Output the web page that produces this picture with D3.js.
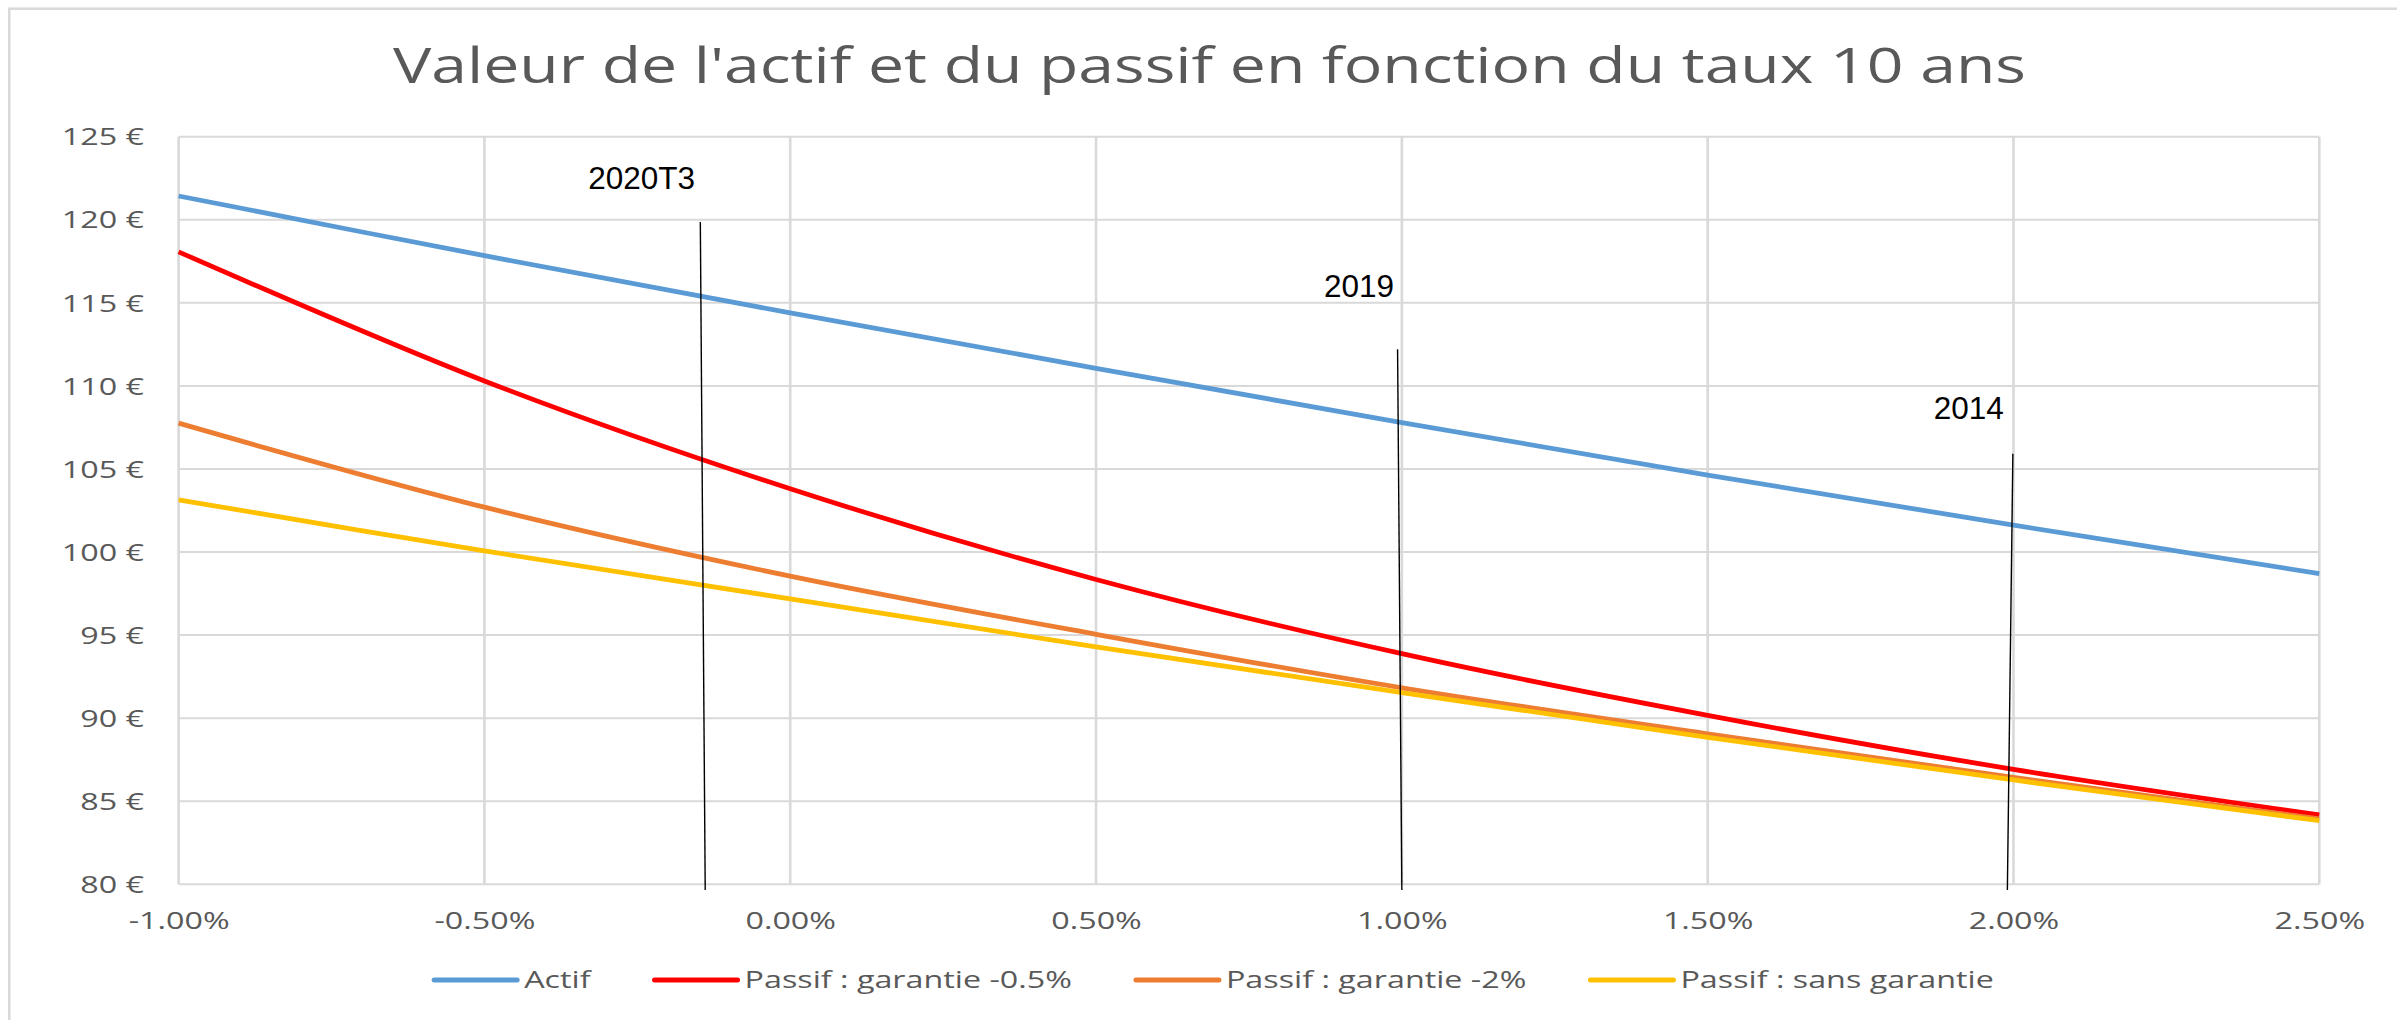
<!DOCTYPE html>
<html>
<head>
<meta charset="utf-8">
<script src="https://cdn.jsdelivr.net/npm/d3@7"></script>
<style>
  body { margin: 0; background: #fff; }
  svg { display: block; }
</style>
</head>
<body>
<script>

// taux 10 ans (en %)
var rates = [-1.0, -0.5, 0.0, 0.5, 1.0, 1.5, 2.0, 2.5];

// valeurs (en euros)
var actif       = [121.43, 117.84, 114.39, 111.06, 107.79, 104.63, 101.62, 98.70];
var passifGar05 = [118.07, 110.30, 103.81, 98.35, 93.88, 90.17, 86.92, 84.18];
var passifGar2  = [107.76, 102.70, 98.55, 95.05, 91.83, 89.06, 86.43, 83.94];
var passifSans  = [103.14, 100.07, 97.18, 94.29, 91.54, 88.85, 86.28, 83.83];

var seriesNames = ["Actif", "Passif : garantie -0.5%", "Passif : garantie -2%", "Passif : sans garantie"];
var seriesColors = ["#5b9bd5", "#ff0000", "#ed7d31", "#ffc000"];

var xTicks = [-1.0, -0.5, 0.0, 0.5, 1.0, 1.5, 2.0, 2.5];
var yTicks = [80, 85, 90, 95, 100, 105, 110, 115, 120, 125];

// annotations (années)
var annoLabels = ["2020T3", "2019", "2014"];
var annoTextRate = [-0.243, 0.930, 1.927];
var annoTextValue = [121.85, 115.35, 108.0];
var annoTopRate = [-0.147, 0.993, 1.999];
var annoTopValue = [119.86, 112.21, 105.91];
var annoBottomRate = [-0.139, 1.000, 1.990];
var annoBottomValue = [79.66, 79.66, 79.66];

var W = 2397, H = 1020;
var plot = {left: 178.6, right: 2319.3, top: 136.7, bottom: 884.3};
var stretch = 1.38; // texte du graphique étiré horizontalement
var grey = "#595959";
var font = "'Open Sans', 'DejaVu Sans', sans-serif";

var svg = d3.select("body")
    .append("svg")
    .attr("width", W)
    .attr("height", H);

// cadre du graphique
svg.append("rect")
    .attr("x", 9.3)
    .attr("y", 8.7)
    .attr("width", W + 20)
    .attr("height", H + 20)
    .attr("fill", "none")
    .attr("stroke", "#d9d9d9")
    .attr("stroke-width", 2.5);

var x = d3.scaleLinear()
    .domain([-1.0, 2.5])
    .range([plot.left, plot.right]);

var y = d3.scaleLinear()
    .domain([80, 125])
    .range([plot.bottom, plot.top]);

// titre
svg.append("text")
    .attr("x", 1209.5)
    .attr("y", 83)
    .attr("text-anchor", "middle")
    .attr("font-family", font)
    .attr("font-size", 49)
    .attr("fill", grey)
    .attr("textLength", 1633)
    .attr("lengthAdjust", "spacingAndGlyphs")
    .text("Valeur de l'actif et du passif en fonction du taux 10 ans");

// grille
var grid = svg.append("g");

grid.selectAll("line.h")
    .data(yTicks)
    .enter()
    .append("line")
    .attr("class", "h")
    .attr("x1", plot.left)
    .attr("x2", plot.right)
    .attr("y1", (d) => y(d))
    .attr("y2", (d) => y(d))
    .attr("stroke", "#d9d9d9")
    .attr("stroke-width", 2);

grid.selectAll("line.v")
    .data(xTicks)
    .enter()
    .append("line")
    .attr("class", "v")
    .attr("x1", (d) => x(d))
    .attr("x2", (d) => x(d))
    .attr("y1", plot.top)
    .attr("y2", plot.bottom)
    .attr("stroke", "#d9d9d9")
    .attr("stroke-width", 2.6);

// axes (seulement les libellés)
var yAxis = d3.axisLeft(y)
    .tickValues(yTicks)
    .tickSize(0)
    .tickFormat((d) => d + " €");

var yG = svg.append("g")
    .attr("transform", "translate(" + plot.left + ",0)")
    .call(yAxis);

var xAxis = d3.axisBottom(x)
    .tickValues(xTicks)
    .tickSize(0)
    .tickFormat((d) => d.toFixed(2) + "%");

var xG = svg.append("g")
    .attr("transform", "translate(0," + plot.bottom + ")")
    .call(xAxis);

[yG, xG].forEach((g) => {
    g.select(".domain").remove();
    g.selectAll("text")
        .attr("font-family", font)
        .attr("font-size", 23.4)
        .attr("fill", grey);
});

yG.selectAll("text")
    .attr("x", -34.6 / stretch)
    .attr("dy", null)
    .attr("y", 8.2)
    .attr("transform", "scale(" + stretch + ",1)");

xG.selectAll("text")
    .attr("dy", null)
    .attr("y", 45.2)
    .attr("transform", "scale(" + stretch + ",1)");

// courbes
var allSeries = [actif, passifGar05, passifGar2, passifSans];

var line = d3.line()
    .x((d, i) => x(rates[i]))
    .y((d) => y(d))
    .curve(d3.curveCatmullRom);

svg.append("g")
    .selectAll("path")
    .data(allSeries)
    .enter()
    .append("path")
    .attr("d", (d) => line(d))
    .attr("fill", "none")
    .attr("stroke", (d, i) => seriesColors[i])
    .attr("stroke-width", 4.8)
    .attr("stroke-linejoin", "round");

// annotations
var anno = svg.append("g");

anno.selectAll("line")
    .data(annoLabels)
    .enter()
    .append("line")
    .attr("x1", (d, i) => x(annoTopRate[i]))
    .attr("y1", (d, i) => y(annoTopValue[i]))
    .attr("x2", (d, i) => x(annoBottomRate[i]))
    .attr("y2", (d, i) => y(annoBottomValue[i]))
    .attr("stroke", "#000")
    .attr("stroke-width", 1.4);

anno.selectAll("text")
    .data(annoLabels)
    .enter()
    .append("text")
    .attr("x", (d, i) => x(annoTextRate[i]))
    .attr("y", (d, i) => y(annoTextValue[i]))
    .attr("text-anchor", "middle")
    .attr("font-family", "'Liberation Sans', Arial, sans-serif")
    .attr("font-size", 31.5)
    .attr("fill", "#000")
    .text((d) => d);

// légende
var legend = svg.append("g");
var swatchW = 83, swatchGap = 7, itemGap = 64, legendY = 980;

var items = legend.selectAll("g")
    .data(seriesNames)
    .enter()
    .append("g");

items.append("line")
    .attr("x1", 0)
    .attr("x2", swatchW)
    .attr("y1", 0)
    .attr("y2", 0)
    .attr("stroke", (d, i) => seriesColors[i])
    .attr("stroke-width", 5)
    .attr("stroke-linecap", "round");

items.append("text")
    .attr("x", (swatchW + swatchGap) / stretch)
    .attr("y", 8.2)
    .attr("transform", "scale(" + stretch + ",1)")
    .attr("font-family", font)
    .attr("font-size", 23.4)
    .attr("fill", grey)
    .text((d) => d);

// placement des éléments de légende, centré
var widths = [];
items.each(function() {
    var tw = d3.select(this).select("text").node().getComputedTextLength() * stretch;
    widths.push(swatchW + swatchGap + tw);
});
var total = d3.sum(widths) + itemGap * (widths.length - 1);
var cursor = 1214 - total / 2;
items.attr("transform", (d, i) => {
    var tx = cursor;
    cursor += widths[i] + itemGap;
    return "translate(" + tx + "," + legendY + ")";
});

</script>
</body>
</html>
